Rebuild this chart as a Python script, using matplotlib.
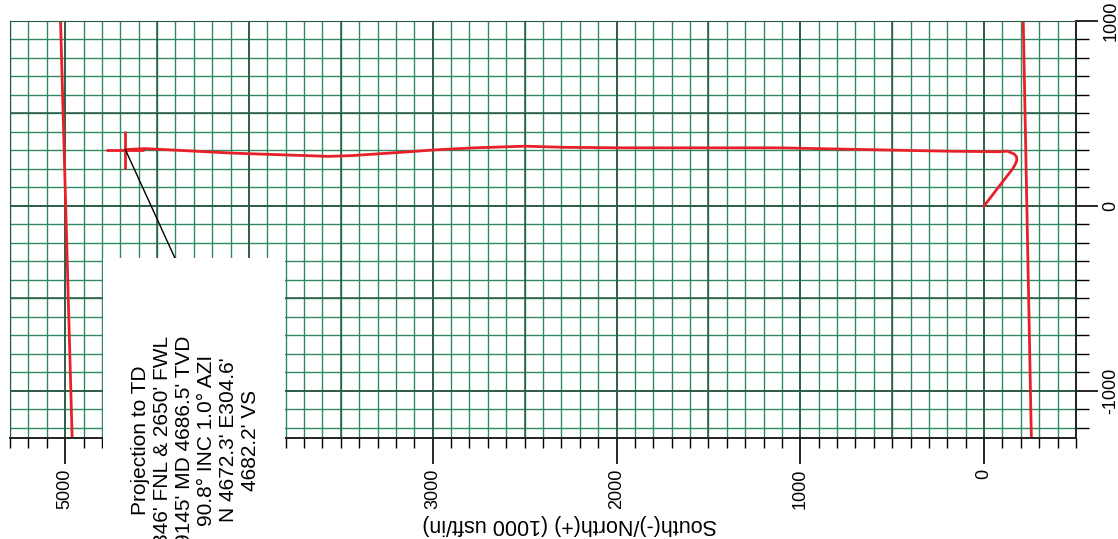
import matplotlib.pyplot as plt
import numpy as np
from matplotlib.patches import Rectangle
from matplotlib.ticker import MultipleLocator

plt.rcParams['font.family'] = ['Liberation Sans', 'DejaVu Sans']
plt.rcParams['axes.unicode_minus'] = False

# well path, north / east offsets (usft)
path_n = [0, -91, -154, -168, -178, -177, -163, -127, -74, 198, 562, 1105, 1594, 1958, 2284,
          2501, 2773, 2990, 3170, 3442, 3567, 3806, 4078, 4350, 4567, 4672.3]
path_e = [0, 118, 199, 222, 245, 265, 281, 296, 293, 296, 303, 314, 314, 314, 317,
          323, 314, 303, 290, 272, 268, 276, 285, 299, 310, 304.6]

# section lines
hard_e = [1000, -1250]
left_hard_n = [5025, 4962]
right_hard_n = [-213, -257]

# leader line from TD to the label
leader_n = [4672.3, 4404]
leader_e = [304.6, -279]

x_ticks = [5000, 4000, 3000, 2000, 1000, 0]
y_ticks = [1000, 0, -1000]

td_lines = ["Projection to TD",
            "346' FNL & 2650' FWL",
            "9145' MD 4686.5' TVD",
            "90.8\u00b0 INC 1.0\u00b0 AZI",
            "N 4672.3' E304.6'",
            "4682.2' VS"]

W, H = 1118, 539
fig = plt.figure(figsize=(W / 100, H / 100), dpi=100)
ax = fig.add_axes([10 / W, (H - 438) / H, 1066 / W, 417 / H])

minor_green = '#2f8a60'
dark_green = '#2a5a44'

ax.set_xlim(5300, -500)
ax.set_ylim(-1255, 1000)
ax.set_xticks(x_ticks)
ax.set_yticks(y_ticks)
ax.xaxis.set_minor_locator(MultipleLocator(100))
ax.yaxis.set_minor_locator(MultipleLocator(100))

ax.set_axisbelow(True)
ax.grid(which='minor', color=minor_green, lw=1.0)
ax.grid(which='major', color=dark_green, lw=1.2)
for v in np.arange(-500, 5300, 500):
    ax.axvline(v, color=dark_green, lw=1.1, zorder=0.6)
for v in np.arange(-1000, 1001, 500):
    ax.axhline(v, color=dark_green, lw=1.1, zorder=0.6)

red = '#e8202a'
ax.plot(left_hard_n, hard_e, color=red, lw=2)
ax.plot(right_hard_n, hard_e, color=red, lw=2)
ax.plot(path_n, path_e, color=red, lw=2)
ax.plot([path_n[-1]], [path_e[-1]], marker='+', color=red, markersize=27, mew=2)
ax.plot(leader_n, leader_e, color='black', lw=1)

ax.tick_params(axis='x', which='major', direction='out', length=19, width=1.2,
               labelsize=13, labelrotation=90, pad=3, colors='black')
ax.tick_params(axis='x', which='minor', direction='out', length=7, width=1.0)
ax.yaxis.tick_right()
ax.tick_params(axis='y', which='major', direction='out', length=16, width=1.2,
               labelsize=13, labelrotation=90, pad=3)
ax.tick_params(axis='y', which='minor', direction='out', length=9, width=1.0)
for lab in ax.get_yticklabels():
    lab.set_va('center')
# the 4000 label sits under the TD label box
ax.get_xticklabels()[1].set_visible(False)

for side in ['left', 'top']:
    ax.spines[side].set_color(dark_green)
for side in ['right', 'bottom']:
    ax.spines[side].set_color('#222222')
    ax.spines[side].set_linewidth(1.4)

ax.set_xlabel("South(-)/North(+) (1000 usft/in)", fontsize=15.5, rotation=180, va='center')
ax.xaxis.set_label_coords((570 - 10) / 1066, (438 - 525) / 417)

fig.add_artist(Rectangle((103 / W, 0), (285 - 103) / W, (H - 258) / H,
                         transform=fig.transFigure, facecolor='white',
                         edgecolor='none', zorder=5))
fig.text(196 / W, (H - 440) / H, "\n".join(td_lines), rotation=90, ha='center',
         va='center', multialignment='center', fontsize=15, zorder=6)

fig.savefig('out.png', dpi=100)
